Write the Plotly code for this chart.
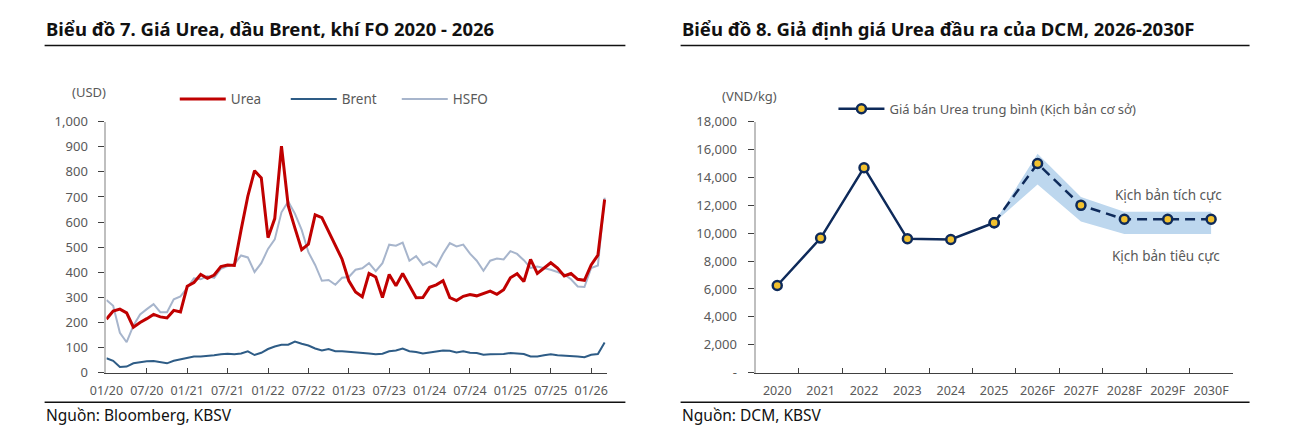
import plotly.graph_objects as go

# ---------------- data: chart 7 (monthly, 01/2020 - 03/2026) ----------------
month_labels = ["01/20", "07/20", "01/21", "07/21", "01/22", "07/22", "01/23",
                "07/23", "01/24", "07/24", "01/25", "07/25", "01/26"]
urea = [213, 245, 253, 238, 181, 200, 215, 232, 222, 218, 248, 242, 344, 359, 391, 376, 389, 423,
        429, 427, 569, 703, 805, 776, 538, 614, 903, 665, 576, 490, 512, 629, 618, 563, 512, 452, 366, 321,
        302, 395, 381, 299, 391, 346, 395, 346, 298, 299, 340, 350, 366, 299, 287, 304, 311, 306, 315, 325, 312,
        330, 378, 394, 363, 451, 395, 417, 438, 417, 385, 395, 372, 368, 429, 468, 690]
brent = [57, 47, 22, 24, 37, 42, 45, 46, 42, 37, 47, 53, 56, 64, 64, 66, 69, 73,
         75, 73, 76, 85, 70, 79, 94, 104, 111, 111, 124, 115, 108, 96, 88, 94, 85, 85, 83, 82,
         79, 76, 73, 75, 85, 88, 96, 85, 82, 76, 80, 84, 88, 87, 80, 85, 79, 78, 71, 73, 73,
         74, 78, 75, 74, 64, 64, 69, 73, 69, 68, 65, 64, 61, 71, 74, 120]
hsfo = [289, 266, 159, 121, 187, 232, 253, 273, 241, 241, 292, 304, 338, 376, 372, 385, 378, 414,
        425, 432, 467, 459, 401, 436, 493, 531, 639, 682, 633, 569, 480, 429, 366, 369, 350, 378, 381, 410,
        416, 436, 404, 436, 510, 506, 518, 446, 464, 429, 442, 423, 474, 516, 503, 510, 474, 446, 406, 446, 455,
        451, 484, 473, 448, 417, 423, 417, 410, 401, 391, 372, 343, 341, 417, 427, 697]
left_yticks = [0, 100, 200, 300, 400, 500, 600, 700, 800, 900, 1000]

# ---------------- data: chart 8 ----------------
years = ["2020", "2021", "2022", "2023", "2024", "2025", "2026F", "2027F", "2028F", "2029F", "2030F"]
base_price = [6250, 9650, 14700, 9600, 9550, 10750, 15000, 12000, 11000, 11000, 11000]
n_hist = 6  # 2020..2025 actual
band_upper = [10750, 15700, 12600, 11550, 11550, 11550]   # 2025..2030F
band_lower = [10750, 13500, 10850, 9950, 9950, 9950]
right_yticks = [0, 2000, 4000, 6000, 8000, 10000, 12000, 14000, 16000, 18000]
right_yticktext = ["-", "2,000", "4,000", "6,000", "8,000", "10,000", "12,000", "14,000", "16,000", "18,000"]

W, H = 1290, 443
FONT = "Noto Sans"
GREY = "#595959"
NAVY = "#0E2A5A"


def px(x):
    return x / W


def py(y):
    return (H - y) / H


month_idx = list(range(len(urea)))

fig = go.Figure()
fig.add_trace(go.Scatter(x=month_idx, y=hsfo, mode="lines", name="HSFO",
                         line=dict(color="#A7B5CC", width=2), xaxis="x", yaxis="y", legend="legend"))
fig.add_trace(go.Scatter(x=month_idx, y=brent, mode="lines", name="Brent",
                         line=dict(color="#2E5C86", width=2), xaxis="x", yaxis="y", legend="legend"))
fig.add_trace(go.Scatter(x=month_idx, y=urea, mode="lines", name="Urea",
                         line=dict(color="#C00000", width=3), xaxis="x", yaxis="y", legend="legend"))

fx = years[n_hist - 1:]
fig.add_trace(go.Scatter(x=fx, y=band_lower, mode="lines", line=dict(width=0, color="#BDD7EE"),
                         showlegend=False, hoverinfo="skip", xaxis="x2", yaxis="y2"))
fig.add_trace(go.Scatter(x=fx, y=band_upper, mode="lines", line=dict(width=0, color="#BDD7EE"),
                         fill="tonexty", fillcolor="#BDD7EE",
                         showlegend=False, hoverinfo="skip", xaxis="x2", yaxis="y2"))
fig.add_trace(go.Scatter(x=fx, y=base_price[n_hist - 1:], mode="lines+markers",
                         line=dict(color=NAVY, width=2.5, dash="10px,6px"),
                         marker=dict(size=9, color="#F2C12E", line=dict(color=NAVY, width=2.5)),
                         showlegend=False, xaxis="x2", yaxis="y2"))
fig.add_trace(go.Scatter(x=years[:n_hist], y=base_price[:n_hist], mode="lines+markers",
                         name="Giá bán Urea trung bình (Kịch bản cơ sở)",
                         line=dict(color=NAVY, width=2.5),
                         marker=dict(size=9, color="#F2C12E", line=dict(color=NAVY, width=2.5)),
                         xaxis="x2", yaxis="y2", legend="legend2"))

ydom = [py(379), py(117.5)]
tickfont = dict(family=FONT, size=13, color=GREY)
xtickfont = dict(family=FONT, size=12.5, color=GREY)

fig.update_layout(
    width=W, height=H,
    margin=dict(l=0, r=0, t=0, b=0),
    paper_bgcolor="white", plot_bgcolor="white",
    font=dict(family=FONT, color=GREY),
    xaxis=dict(domain=[px(90.7), px(598)], range=[0, 74.3],
               tickvals=list(range(0, 73, 6)), ticktext=month_labels, tickangle=0,
               showgrid=False, zeroline=False, showline=True, linecolor="#404040", linewidth=1,
               ticks="inside", ticklen=5, tickcolor="#404040", tickfont=xtickfont,
               ticklabelstandoff=6),
    yaxis=dict(domain=ydom, range=[0, 1000], tickvals=left_yticks,
               tickformat=",", showgrid=False, zeroline=False,
               showline=True, linecolor="#BFBFBF", linewidth=2,
               ticks="outside", ticklen=6, tickcolor="#404040", tickfont=tickfont,
               ticklabelstandoff=8),
    xaxis2=dict(domain=[px(749), px(1233)], range=[-0.5, 10.5], type="category",
                categoryorder="array", categoryarray=years, tickangle=0,
                showgrid=False, zeroline=False, showline=True, linecolor="#404040", linewidth=1,
                ticks="inside", tickson="boundaries", ticklen=5, tickcolor="#404040",
                tickfont=xtickfont, anchor="y2", ticklabelstandoff=6),
    yaxis2=dict(domain=ydom, range=[0, 18000], tickvals=right_yticks, ticktext=right_yticktext,
                showgrid=False, zeroline=False, showline=True, linecolor="#BFBFBF", linewidth=2,
                ticks="outside", ticklen=6, tickcolor="#404040", tickfont=tickfont,
                ticklabelstandoff=8, anchor="x2"),
    legend=dict(orientation="h", x=px(160), y=py(94), xanchor="left", yanchor="middle",
                font=dict(family=FONT, size=13.5, color=GREY), itemwidth=46,
                entrywidth=50, bgcolor="rgba(0,0,0,0)", traceorder="reversed"),
    legend2=dict(orientation="h", x=px(828), y=py(104), xanchor="left", yanchor="middle",
                 font=dict(family=FONT, size=13, color=GREY), itemwidth=46,
                 bgcolor="rgba(0,0,0,0)"),
    showlegend=True,
)

title_font = dict(family=FONT, size=18.5, color="#111111")
foot_font = dict(family=FONT, size=15.5, color="#111111")
annots = [
    dict(text="<b>Biểu đồ 7. Giá Urea, dầu Brent, khí FO 2020 - 2026</b>", x=px(27), y=py(20),
         xanchor="left", yanchor="middle", font=title_font),
    dict(text="<b>Biểu đồ 8. Giả định giá Urea đầu ra của DCM, 2026-2030F</b>", x=px(672), y=py(20),
         xanchor="left", yanchor="middle", font=title_font),
    dict(text="Nguồn: Bloomberg, KBSV", x=px(27), y=py(423), xanchor="left", yanchor="middle", font=foot_font),
    dict(text="Nguồn: DCM, KBSV", x=px(672), y=py(423), xanchor="left", yanchor="middle", font=foot_font),
    dict(text="(USD)", x=px(73), y=py(87), xanchor="center", yanchor="middle",
         font=dict(family=FONT, size=13, color=GREY)),
    dict(text="(VND/kg)", x=px(743), y=py(91), xanchor="center", yanchor="middle",
         font=dict(family=FONT, size=13, color=GREY)),
    dict(text="Kịch bản tích cực", x=px(1168), y=py(194), xanchor="center", yanchor="middle",
         font=dict(family=FONT, size=13.5, color=GREY)),
    dict(text="Kịch bản tiêu cực", x=px(1165), y=py(257), xanchor="center", yanchor="middle",
         font=dict(family=FONT, size=13.5, color=GREY)),
]
for a in annots:
    a.update(xref="paper", yref="paper", showarrow=False)
fig.update_layout(annotations=annots)

shapes = []
for (x0, x1) in [(28, 617), (673, 1250)]:
    for yy in (38, 410):
        shapes.append(dict(type="line", xref="paper", yref="paper", x0=px(x0), x1=px(x1),
                           y0=py(yy), y1=py(yy), line=dict(color="#111111", width=1.5)))
fig.update_layout(shapes=shapes)

fig.write_html("out.html", config={"displayModeBar": False},
               post_script="document.body.style.margin='0';document.body.style.padding='0';"
                           "document.documentElement.style.overflow='hidden';")
